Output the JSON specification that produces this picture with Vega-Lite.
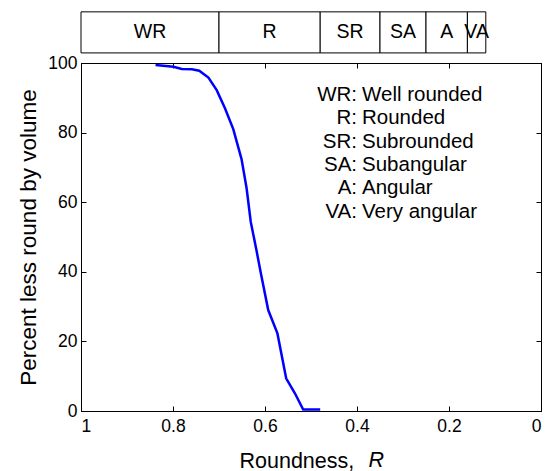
{
  "$schema": "https://vega.github.io/schema/vega-lite/v6.json",
  "autosize": {"type": "none"},
  "padding": {"left": 81, "top": 63, "right": 4, "bottom": 60},
  "width": 460,
  "height": 348,
  "background": "white",
  "config": {
    "font": "Liberation Sans",
    "view": {"stroke": "black", "strokeWidth": 1},
    "axis": {
      "domainColor": "black",
      "tickColor": "black",
      "labelColor": "black",
      "titleColor": "black",
      "grid": false,
      "labelFont": "Liberation Sans",
      "titleFont": "Liberation Sans",
      "labelFontSize": 17.5,
      "titleFontWeight": "normal",
      "tickSize": -5
    }
  },
  "datasets": {
    "curve": [
      {"R": 0.838, "P": 99.4},
      {"R": 0.799, "P": 98.9},
      {"R": 0.781, "P": 98.3},
      {"R": 0.759, "P": 98.2},
      {"R": 0.743, "P": 97.8},
      {"R": 0.723, "P": 95.8},
      {"R": 0.705, "P": 92.2},
      {"R": 0.687, "P": 87.0},
      {"R": 0.669, "P": 81.0},
      {"R": 0.651, "P": 72.4},
      {"R": 0.640, "P": 64.0},
      {"R": 0.631, "P": 54.4},
      {"R": 0.618, "P": 45.8},
      {"R": 0.609, "P": 39.6},
      {"R": 0.593, "P": 29.0},
      {"R": 0.573, "P": 22.3},
      {"R": 0.554, "P": 9.4},
      {"R": 0.535, "P": 5.1},
      {"R": 0.517, "P": 0.4},
      {"R": 0.480, "P": 0.4}
    ],
    "legend": [
      {"abbr": "WR:", "desc": "Well rounded", "x": 0.40, "y": 89.1},
      {"abbr": "R:", "desc": "Rounded", "x": 0.40, "y": 82.4},
      {"abbr": "SR:", "desc": "Subrounded", "x": 0.40, "y": 75.7},
      {"abbr": "SA:", "desc": "Subangular", "x": 0.40, "y": 69.0},
      {"abbr": "A:", "desc": "Angular", "x": 0.40, "y": 62.3},
      {"abbr": "VA:", "desc": "Very angular", "x": 0.40, "y": 55.6}
    ],
    "classes": [
      {"cls": "WR", "lo": 1.0, "hi": 0.70, "mid": 0.85},
      {"cls": "R", "lo": 0.70, "hi": 0.48, "mid": 0.59},
      {"cls": "SR", "lo": 0.48, "hi": 0.35, "mid": 0.415},
      {"cls": "SA", "lo": 0.35, "hi": 0.25, "mid": 0.30},
      {"cls": "A", "lo": 0.25, "hi": 0.16, "mid": 0.205},
      {"cls": "VA", "lo": 0.16, "hi": 0.12, "mid": 0.14}
    ],
    "symbol": [
      {"sym": "R"}
    ]
  },
  "layer": [
    {
      "data": {"name": "curve"},
      "mark": {"type": "line", "color": "#0000ff", "strokeWidth": 2.5},
      "encoding": {
        "x": {
          "field": "R", "type": "quantitative",
          "scale": {"domain": [0, 1], "reverse": true, "nice": false},
          "axis": {"orient": "bottom", "values": [1, 0.8, 0.6, 0.4, 0.2, 0], "format": "~g", "labelPadding": 11, "title": "Roundness,", "titleFontSize": 21.5, "titleBaseline": "alphabetic", "titleAlign": "left", "titleY": 56, "titleX": 158}
        },
        "y": {
          "field": "P", "type": "quantitative",
          "scale": {"domain": [0, 100], "nice": false},
          "axis": {"orient": "left", "values": [0, 20, 40, 60, 80, 100], "labelPadding": 9, "title": "Percent less round by volume", "titleFontSize": 22.5, "titleBaseline": "alphabetic", "titleX": -46}
        }
      }
    },
    {
      "data": {"name": "curve"},
      "mark": {"type": "point", "opacity": 0},
      "encoding": {
        "x": {
          "field": "R", "type": "quantitative",
          "scale": {"domain": [0, 1], "reverse": true, "nice": false},
          "axis": {"orient": "top", "values": [1, 0.8, 0.6, 0.4, 0.2, 0], "labels": false, "title": null}
        },
        "y": {
          "field": "P", "type": "quantitative",
          "scale": {"domain": [0, 100], "nice": false},
          "axis": {"orient": "right", "values": [0, 20, 40, 60, 80, 100], "labels": false, "title": null}
        }
      }
    },
    {
      "data": {"name": "symbol"},
      "mark": {"type": "text", "fontStyle": "italic", "fontSize": 21.5, "align": "left", "baseline": "alphabetic", "color": "black", "clip": false},
      "encoding": {
        "x": {"datum": 0.375, "type": "quantitative", "axis": null},
        "y": {"datum": -16.1, "type": "quantitative", "axis": null},
        "text": {"field": "sym"}
      }
    },
    {
      "data": {"name": "classes"},
      "mark": {"type": "rect", "fill": "white", "stroke": "black", "strokeWidth": 1, "clip": false},
      "encoding": {
        "x": {"field": "lo", "type": "quantitative", "axis": null},
        "x2": {"field": "hi"},
        "y": {"datum": 102.9, "type": "quantitative", "axis": null},
        "y2": {"datum": 114.7}
      }
    },
    {
      "data": {"name": "classes"},
      "mark": {"type": "text", "fontSize": 19.5, "baseline": "middle", "align": "center", "color": "black", "clip": false},
      "encoding": {
        "x": {"field": "mid", "type": "quantitative", "axis": null},
        "y": {"datum": 108.8, "type": "quantitative", "axis": null},
        "text": {"field": "cls"}
      }
    },
    {
      "data": {"name": "legend"},
      "mark": {"type": "text", "align": "right", "baseline": "alphabetic", "fontSize": 20.5, "color": "black"},
      "encoding": {
        "x": {"field": "x", "type": "quantitative", "axis": null},
        "y": {"field": "y", "type": "quantitative", "axis": null},
        "text": {"field": "abbr"}
      }
    },
    {
      "data": {"name": "legend"},
      "mark": {"type": "text", "align": "left", "baseline": "alphabetic", "fontSize": 20.5, "dx": 5, "color": "black"},
      "encoding": {
        "x": {"field": "x", "type": "quantitative", "axis": null},
        "y": {"field": "y", "type": "quantitative", "axis": null},
        "text": {"field": "desc"}
      }
    }
  ],
  "resolve": {"axis": {"x": "independent", "y": "independent"}}
}
